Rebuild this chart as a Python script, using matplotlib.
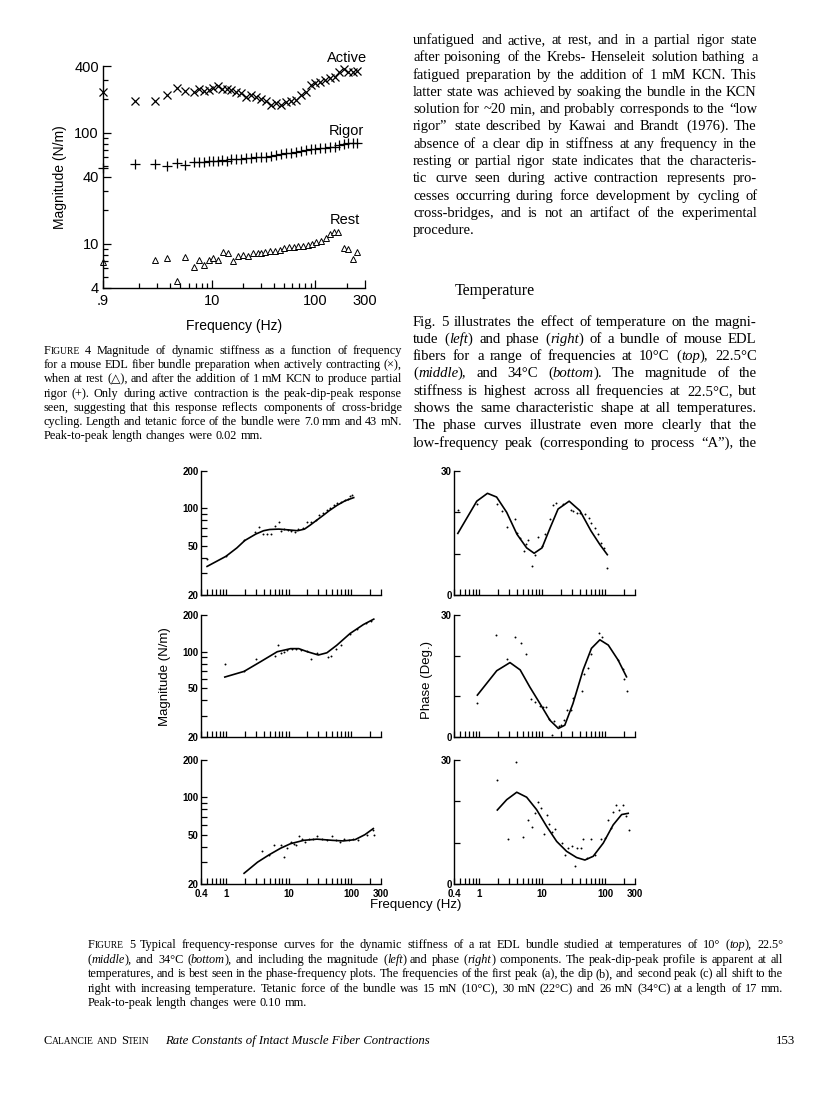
import matplotlib
matplotlib.use('Agg')
import matplotlib.pyplot as plt
from matplotlib.ticker import FixedLocator, FixedFormatter, NullFormatter

W, H = 816, 1108
SERIF = ['Liberation Serif', 'DejaVu Serif', 'DejaVu Sans']
SANS = ['Liberation Sans', 'DejaVu Sans']
plt.rcParams['font.family'] = SANS

# %% Figure 4 data (magnitude, N/m)
active_hz = [0.9, 1.85, 2.82, 3.74, 4.67, 5.6, 6.7, 7.6, 8.5, 9.5, 10.4, 11.4, 12.6, 14, 15.4,
             17.2, 19.2, 21.5, 24, 26.8, 30, 33.5, 37.5, 41.9, 46.9, 52.4, 58.5, 65.5, 73, 81.7,
             91.4, 100, 110, 123, 137, 154, 169, 188, 207, 228, 249]
active_mag = [235, 194, 192, 219, 255, 238, 235, 248, 238, 243, 252, 264, 248, 246, 243,
              235, 227, 209, 219, 209, 200, 192, 178, 184, 178, 188, 194, 199, 219, 235,
              270, 279, 289, 299, 310, 321, 356, 373, 356, 356, 363]
rigor_hz = active_hz
rigor_mag = [48.7, 52, 52.5, 50.4, 54, 51.6, 55, 55, 54.4, 56.3, 56.3, 56.3, 57, 56.3, 57.8,
             57.8, 58.6, 59.4, 59.4, 60.3, 61.1, 61.1, 62, 63.2, 64, 65.5, 66.4, 67.8, 68.6, 70.2,
             71, 71.6, 72.5, 73.4, 74, 75.2, 77.8, 79.2, 80.3, 81.4, 81.4]
rest_hz = [0.9, 2.82, 3.74, 4.67, 5.6, 6.7, 7.6, 8.5, 9.5, 10.4, 11.4, 12.8, 14.3, 16.1, 18,
           20.2, 22.3, 25, 27.9, 30, 33, 36.5, 40.5, 45.5, 50.2, 56, 62, 68.5, 76, 84,
           92.5, 102, 113, 125, 137, 150, 165, 188, 207, 230, 250]
rest_mag = [6.8, 7.1, 7.45, 4.6, 7.6, 6.2, 7.1, 6.4, 7.1, 7.45, 7.1, 8.4, 8.3, 7.0, 7.7,
            7.9, 7.7, 8.3, 8.3, 8.2, 8.4, 8.7, 8.7, 8.85, 9.1, 9.3, 9.3, 9.5, 9.6, 9.8,
            10.0, 10.4, 10.7, 11.4, 12.2, 12.8, 12.8, 9.2, 9.0, 7.3, 8.4]

# %% Figure 5 data: magnitude (N/m) and phase (deg) at 10, 22.5, 34 degC
mag10_hz = [0.5, 1.0, 1.95, 2.9, 3.4, 3.9, 4.6, 5.3, 6.0, 7.1, 7.6, 8.4, 9.8, 11.1, 12.6, 14.3,
            17, 19.5, 23, 27, 30.5, 35, 40.5, 46, 53, 60, 69, 80, 89, 97, 105]
mag10_pts = [39, 41, 56, 64, 71, 62, 62, 62, 72, 77, 66, 68, 67, 66, 65, 68,
             70, 77, 77, 81, 89, 92, 97, 101, 107, 110, 113, 116, 118, 125, 127]
mag10_fit_hz = [0.5, 1, 1.5, 2, 3, 4, 5, 7, 10, 14, 18, 22, 28, 35, 45, 60, 80, 110]
mag10_fit = [34, 41, 48, 55, 62, 66, 67.5, 68, 67, 66, 68, 73, 80, 87, 96, 106, 115, 122]

ph10_hz = [0.47, 0.92, 1.9, 2.3, 2.75, 3.7, 4.0, 4.4, 5.2, 5.5, 6.0, 7.0, 7.8, 8.6, 10, 11,
           13.4, 15.1, 16.5, 21.8, 28.5, 31, 36.4, 40, 48, 56, 61, 69, 78, 88, 96, 109]
ph10_pts = [20.6, 22, 22, 20.4, 16.5, 18.4, 15.1, 13.7, 10.7, 12.4, 13.4, 6.9, 9.75, 14.1, 11.8, 14.7,
            18.4, 21.8, 22.2, 21.9, 20.6, 20.4, 19.8, 19.8, 19.6, 18.6, 17.4, 16.1, 14.7, 12.6, 11.4, 6.6]
ph10_fit_hz = [0.46, 0.92, 1.36, 1.9, 2.75, 4.0, 5.7, 7.5, 10, 13.5, 18, 27, 40, 60, 83, 109]
ph10_fit = [14.9, 22.7, 24.6, 23.7, 20, 14.7, 11.4, 10.1, 11.4, 16.3, 20.8, 22.7, 20.4, 15.5, 12.2, 9.75]

mag22_hz = [0.96, 1.95, 3.0, 6.0, 6.8, 7.5, 8.6, 9.6, 11.4, 13.4, 16, 19.8, 22.8, 28.5, 43,
            48, 57, 70, 96, 125, 175, 210]
mag22_pts = [80, 69, 87, 92, 113, 98, 100, 104, 105, 106, 104, 101, 87, 97, 90,
             92, 106, 114, 141, 155, 172, 180]
mag22_fit_hz = [0.96, 1.95, 3.6, 6.6, 10.8, 14.6, 20, 30, 41, 59, 96, 157, 230]
mag22_fit = [62, 69, 83, 100, 106, 106, 100, 94, 98, 113, 141, 167, 185]

ph22_hz = [0.94, 1.86, 2.8, 3.73, 4.6, 5.6, 6.7, 7.7, 9.3, 10.3, 11.4, 12.9, 14.6, 15.5, 18.8,
           20, 22.3, 24.7, 28.5, 31.4, 42.6, 47, 53, 59, 81, 91, 162, 191, 203, 226]
ph22_pts = [8.4, 25.1, 19.2, 24.7, 23.1, 20.3, 9.3, 8.5, 7.6, 7.3, 7.4, 4.4, 0.4, 3.9, 2.6,
            2.9, 4.3, 6.6, 6.6, 9.7, 11.3, 15.4, 17, 20.3, 25.5, 24.7, 18.9, 16.8, 14.3, 11.4]
ph22_fit_hz = [0.94, 1.91, 3.1, 4.5, 6.4, 9.3, 13.4, 18.2, 23, 31, 45, 61, 83, 113, 162, 220]
ph22_fit = [10.3, 16.3, 18.3, 16.5, 12.3, 8.2, 4.1, 2.1, 2.9, 8.2, 16.5, 21.8, 23.9, 22.6, 18.9, 14.8]

mag34_hz = [3.8, 4.9, 5.8, 7.5, 8.6, 9.5, 10.8, 12.2, 13.2, 14.6, 16.5, 18.2, 21, 24.3, 28.5,
            34.2, 41, 49, 58, 67, 77, 91, 109, 131, 177, 221, 232]
mag34_pts = [36.8, 34, 41.5, 41.5, 32.9, 39, 44, 42, 41.5, 48.5, 46, 43.5, 46, 46, 48.5,
             46, 45, 48.5, 45, 43.5, 46, 45, 46, 45, 50, 55, 50]
mag34_fit_hz = [1.95, 3.2, 4.9, 7.5, 10.8, 17.5, 28.5, 50, 75, 116, 166, 226]
mag34_fit = [24.4, 30, 34.4, 38.9, 42.3, 45, 46, 45, 44.5, 45.6, 50, 56]

ph34_hz = [1.95, 3.87, 2.92, 5.05, 5.9, 6.9, 7.7, 8.5, 9.6, 10.8, 11.9, 13.1, 14.4, 16.1, 20.5,
           23.2, 26.2, 29.6, 33.4, 36.4, 41.1, 44, 51, 61, 69, 88, 100, 113, 123, 136,
           150, 169, 191, 215, 243]
ph34_pts = [25.2, 29.6, 11, 11.3, 15.6, 13.9, 17.1, 19.8, 18.3, 12.1, 16.7, 14.5, 12.7, 13.4, 9.9,
            7.1, 8.7, 9.3, 4.4, 8.7, 8.7, 10.9, 6.4, 11, 6.9, 11, 11.2, 15.5, 13.6, 17.5,
            19.2, 17.9, 19.2, 16.5, 13.1]
ph34_fit_hz = [1.95, 2.75, 3.97, 5.7, 8.2, 11.9, 17.1, 24.6, 35.5, 48, 65, 94, 135, 184, 234]
ph34_fit = [17.9, 20.4, 22.2, 21, 18, 13.9, 10.3, 7.9, 6.4, 5.8, 6.7, 9.9, 14.3, 16.8, 17.1]

# %% Page text
col_text = [
    "unfatigued and active, at rest, and in a partial rigor state",
    "after poisoning of the Krebs- Henseleit solution bathing a",
    "fatigued preparation by the addition of 1 mM KCN. This",
    "latter state was achieved by soaking the bundle in the KCN",
    "solution for ~20 min, and probably corresponds to the \u201clow",
    "rigor\u201d state described by Kawai and Brandt (1976). The",
    "absence of a clear dip in stiffness at any frequency in the",
    "resting or partial rigor state indicates that the characteris-",
    "tic curve seen during active contraction represents pro-",
    "cesses occurring during force development by cycling of",
    "cross-bridges, and is not an artifact of the experimental",
    "procedure.",
]
temp_text = [
    "Fig. 5 illustrates the effect of temperature on the magni-",
    "tude (_left_) and phase (_right_) of a bundle of mouse EDL",
    "fibers for a range of frequencies at 10\u00b0C (_top_), 22.5\u00b0C",
    "(_middle_), and 34\u00b0C (_bottom_). The magnitude of the",
    "stiffness is highest across all frequencies at 22.5\u00b0C, but",
    "shows the same characteristic shape at all temperatures.",
    "The phase curves illustrate even more clearly that the",
    "low-frequency peak (corresponding to process \u201cA\u201d), the",
]
cap4_text = [
    "^FIGURE 4 Magnitude of dynamic stiffness as a function of frequency",
    "for a mouse EDL fiber bundle preparation when actively contracting (\u00d7),",
    "when at rest (\u25b3), and after the addition of 1 mM KCN to produce partial",
    "rigor (+). Only during active contraction is the peak-dip-peak response",
    "seen, suggesting that this response reflects components of cross-bridge",
    "cycling. Length and tetanic force of the bundle were 7.0 mm and 43 mN.",
    "Peak-to-peak length changes were 0.02 mm.",
]
cap5_text = [
    "^FIGURE 5 Typical frequency-response curves for the dynamic stiffness of a rat EDL bundle "
    "studied at temperatures of 10\u00b0 (_top_), 22.5\u00b0",
    "(_middle_), and 34\u00b0C (_bottom_), and including the magnitude (_left_) and phase (_right_) "
    "components. The peak-dip-peak profile is apparent at all",
    "temperatures, and is best seen in the phase-frequency plots. The frequencies of the first "
    "peak (a), the dip (b), and second peak (c) all shift to the",
    "right with increasing temperature. Tetanic force of the bundle was 15 mN (10\u00b0C), "
    "30 mN (22\u00b0C) and 26 mN (34\u00b0C) at a length of 17 mm.",
    "Peak-to-peak length changes were 0.10 mm.",
]

fig = plt.figure(figsize=(W / 100, H / 100), dpi=100)
fig.patch.set_facecolor('white')
renderer = fig.canvas.get_renderer()


def box(left, top, right, bottom):
    return [left / W, 1 - bottom / H, (right - left) / W, (bottom - top) / H]


def word_parts(word, size):
    # '^Word' -> small caps with a full capital, '`word' -> all small caps,
    # '_x_' -> italic
    if word.startswith('^'):
        w = word[1:]
        return [(w[0], size, 'normal'), (w[1:], size * 0.78, 'normal')]
    if word.startswith('`'):
        return [(word[1:], size * 0.78, 'normal')]
    parts, italic = [], False
    for seg in word.split('_'):
        if seg:
            parts.append((seg, size, 'italic' if italic else 'normal'))
        italic = not italic
    return parts


def make_words(line, size):
    items, total = [], 0
    for w in line.split():
        texts = []
        for s, fs, st in word_parts(w, size):
            t = fig.text(0, 0, s, fontsize=fs, family=SERIF, va='baseline', ha='left',
                         fontstyle=st)
            texts.append((t, t.get_window_extent(renderer).width))
        items.append(texts)
        total += sum(wd for _, wd in texts)
    return items, total


def natural_width(line, size):
    items, total = make_words(line, size)
    for texts in items:
        for t, _ in texts:
            t.remove()
    return total + (len(items) - 1) * size * 100 / 72 * 0.24


def put_line(x0, x1, y, line, size, justify=True, gap=None):
    items, total = make_words(line, size)
    if gap is None:
        gap = size * 100 / 72 * 0.26
    if justify and len(items) > 1:
        gap = (x1 - x0 - total) / (len(items) - 1)
    x = x0
    for texts in items:
        for t, wd in texts:
            t.set_position((round(x) / W, 1 - round(y) / H))
            x += wd
        x += gap


def draw_block(x0, x1, y0, lead, lines, size, last_ragged=True):
    # shrink the block's size until every line fits its column
    widest = max(natural_width(line, size) for line in lines)
    if widest > x1 - x0:
        size *= (x1 - x0) / widest
    for i, line in enumerate(lines):
        put_line(x0, x1, y0 + i * lead, line, size,
                 justify=not (last_ragged and i == len(lines) - 1))


# %% Figure 4
ax4 = fig.add_axes(box(103, 66, 365, 288))
ax4.plot(active_hz, active_mag, 'x', color='black', ms=5.5, mew=0.9, clip_on=False)
ax4.plot(rigor_hz, rigor_mag, '+', color='black', ms=6.5, mew=0.9, clip_on=False)
ax4.plot(rest_hz, rest_mag, '^', color='black', mfc='white', ms=4.5, mew=0.7, clip_on=False)
ax4.set_xscale('log')
ax4.set_yscale('log')
ax4.set_xlim(0.9, 300)
ax4.set_ylim(4, 400)
ax4.xaxis.set_major_locator(FixedLocator([0.9, 10, 100, 300]))
ax4.xaxis.set_major_formatter(FixedFormatter(['.9', '10', '100', '300']))
ax4.xaxis.set_minor_locator(FixedLocator([2, 3, 4, 5, 6, 7, 8, 9, 20, 30, 40, 50, 60, 70, 80, 90, 200]))
ax4.yaxis.set_major_locator(FixedLocator([4, 10, 40, 100, 400]))
ax4.yaxis.set_major_formatter(FixedFormatter(['4', '10', '40', '100', '400']))
ax4.yaxis.set_minor_locator(FixedLocator([5, 6, 7, 8, 9, 20, 30, 50, 60, 70, 80, 90, 200, 300]))
ax4.xaxis.set_minor_formatter(NullFormatter())
ax4.yaxis.set_minor_formatter(NullFormatter())
ax4.tick_params(which='both', direction='in', width=0.9, labelsize=10.5)
ax4.tick_params(axis='y', pad=3)
ax4.tick_params(axis='x', pad=4)
ax4.tick_params(which='major', length=6)
ax4.tick_params(which='minor', length=3.5)
for s in ['top', 'right']:
    ax4.spines[s].set_visible(False)
for s in ['left', 'bottom']:
    ax4.spines[s].set_linewidth(1.0)
ax4.text(200, 470, 'Active', fontsize=10.5, ha='center', va='center', clip_on=False)
ax4.text(200, 104, 'Rigor', fontsize=10.5, ha='center', va='center')
ax4.text(190, 16.4, 'Rest', fontsize=10.5, ha='center', va='center')
ax4.set_ylabel('Magnitude (N/m)', fontsize=10, labelpad=5)
ax4.set_xlabel('Frequency (Hz)', fontsize=10, labelpad=8)

# %% Figure 5
rows = [(471, 595), (615, 737), (760, 884)]
mag_sets = [(mag10_hz, mag10_pts, mag10_fit_hz, mag10_fit),
            (mag22_hz, mag22_pts, mag22_fit_hz, mag22_fit),
            (mag34_hz, mag34_pts, mag34_fit_hz, mag34_fit)]
ph_sets = [(ph10_hz, ph10_pts, ph10_fit_hz, ph10_fit),
           (ph22_hz, ph22_pts, ph22_fit_hz, ph22_fit),
           (ph34_hz, ph34_pts, ph34_fit_hz, ph34_fit)]
x_minor = [0.5, 0.6, 0.7, 0.8, 0.9, 2, 3, 4, 5, 6, 7, 8, 9,
           20, 30, 40, 50, 60, 70, 80, 90, 200]


def style_fig5(ax, last):
    ax.set_xscale('log')
    ax.set_xlim(0.4, 300)
    ax.xaxis.set_major_locator(FixedLocator([0.4, 1, 10, 100, 300]))
    ax.xaxis.set_minor_locator(FixedLocator(x_minor))
    ax.xaxis.set_minor_formatter(NullFormatter())
    if last:
        ax.xaxis.set_major_formatter(FixedFormatter(['0.4', '1', '10', '100', '300']))
    else:
        ax.xaxis.set_major_formatter(NullFormatter())
    for s in ['top', 'right']:
        ax.spines[s].set_visible(False)
    for s in ['left', 'bottom']:
        ax.spines[s].set_linewidth(1.0)
    ax.tick_params(which='both', direction='in', length=4.5, width=0.9, pad=1.5)
    ax.tick_params(axis='x', pad=3.5)
    for lab in ax.get_xticklabels() + ax.get_yticklabels():
        lab.set_fontsize(7)
        lab.set_fontweight('bold')


for i, (top, bot) in enumerate(rows):
    last = i == 2
    axm = fig.add_axes(box(201, top, 381, bot))
    hz, pts, fhz, fit = mag_sets[i]
    axm.plot(fhz, fit, color='black', lw=1.2)
    axm.plot(hz, pts, 'o', color='black', ms=1.4, mew=0, clip_on=False)
    axm.set_yscale('log')
    axm.set_ylim(20, 200)
    axm.yaxis.set_major_locator(FixedLocator([20, 50, 100, 200]))
    axm.yaxis.set_major_formatter(FixedFormatter(['20', '50', '100', '200']))
    axm.yaxis.set_minor_locator(FixedLocator([30, 40, 60, 70, 80, 90]))
    axm.yaxis.set_minor_formatter(NullFormatter())
    style_fig5(axm, last)

    axp = fig.add_axes(box(454, top, 635, bot))
    hz, pts, fhz, fit = ph_sets[i]
    axp.plot(fhz, fit, color='black', lw=1.2)
    axp.plot(hz, pts, 'o', color='black', ms=1.4, mew=0, clip_on=False)
    axp.set_ylim(0, 30)
    axp.yaxis.set_major_locator(FixedLocator([0, 10, 20, 30]))
    axp.yaxis.set_major_formatter(FixedFormatter(['0', '', '', '30']))
    style_fig5(axp, last)

fig.text(165 / W, 1 - 677 / H, 'Magnitude (N/m)', rotation=90, fontsize=9.5,
         ha='center', va='center')
fig.text(427 / W, 1 - 680 / H, 'Phase (Deg.)', rotation=90, fontsize=9.5,
         ha='center', va='center')
fig.text(416 / W, 1 - 905 / H, 'Frequency (Hz)', fontsize=9.5, ha='center', va='center')

# %% Page text blocks
draw_block(413, 757, 44, 17.3, col_text, 10.6)
fig.text(455 / W, 1 - 295 / H, 'Temperature', fontsize=11.5, family=SERIF)
draw_block(413, 757, 325.5, 17.3, temp_text, 10.6, last_ragged=False)
draw_block(44, 402, 354, 14.2, cap4_text, 9.0)
draw_block(88, 783, 948, 14.6, cap5_text, 9.0)

put_line(44, 44, 1044, '^CALANCIE `AND ^STEIN', 8.8, justify=False)
fig.text(165 / W, 1 - 1044 / H, 'Rate Constants of Intact Muscle Fiber Contractions',
         fontsize=9.2, family=SERIF, fontstyle='italic', va='baseline')
fig.text(795 / W, 1 - 1044 / H, '153', fontsize=9.2, family=SERIF, ha='right', va='baseline')

fig.savefig('out.png', dpi=100, facecolor='white')
